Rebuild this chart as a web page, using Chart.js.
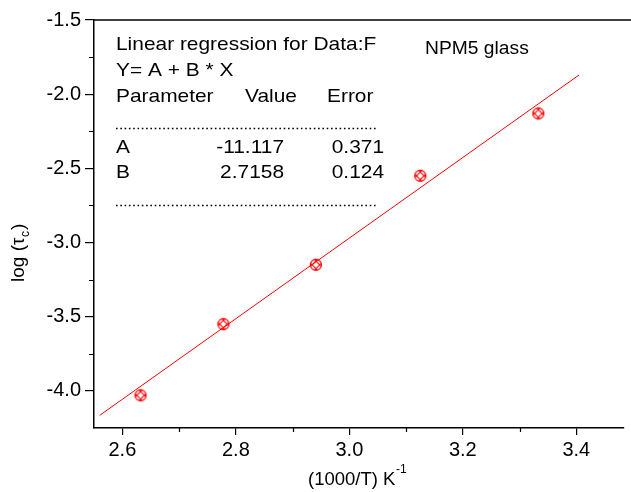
<!DOCTYPE html>
<html>
<head>
<meta charset="utf-8">
<script src="https://cdn.jsdelivr.net/npm/chart.js@4.4.1/dist/chart.umd.min.js"></script>
<style>
  html, body { margin: 0; padding: 0; background: #fff; }
  #wrap { width: 631px; height: 492px; position: relative; }
</style>
</head>
<body>
<div id="wrap"><canvas id="c"></canvas></div>
<script>
// ---- data ----
const xValues = [2.632, 2.778, 2.941, 3.125, 3.333];   // (1000/T) K^-1
const yValues = [-4.03, -3.55, -3.15, -2.55, -2.13];   // log(tau_c)
const fitX = [2.56, 3.405];
const fitY = [-4.165, -1.870];
const xMajorTicks = [2.6, 2.8, 3.0, 3.2, 3.4];
const xMinorTicks = [2.7, 2.9, 3.1, 3.3];
const yMajorTicks = [-1.5, -2.0, -2.5, -3.0, -3.5, -4.0];
const yMinorTicks = [-1.75, -2.25, -2.75, -3.25, -3.75];
const paramNames = ['A', 'B'];
const paramValues = ['-11.117', '2.7158'];
const paramErrors = ['0.371', '0.124'];

const FONT = '"Liberation Sans", Arial, Helvetica, sans-serif';
const RED = '#ff0000';

// custom marker: circle with cross hatch
function makeMarker() {
  const s = 16, c = s / 2, r = 5.6;
  const cv = document.createElement('canvas');
  cv.width = s; cv.height = s;
  const g = cv.getContext('2d');
  g.strokeStyle = RED;
  g.lineWidth = 1.1;
  g.beginPath();
  g.arc(c, c, r, 0, Math.PI * 2);
  g.stroke();
  g.save();
  g.beginPath();
  g.arc(c, c, r, 0, Math.PI * 2);
  g.clip();
  g.beginPath();
  [-1.9, 1.9].forEach(o => {
    g.moveTo(c - r + o, c - r - o);
    g.lineTo(c + r + o, c + r - o);
    g.moveTo(c - r + o, c + r + o);
    g.lineTo(c + r + o, c - r + o);
  });
  g.stroke();
  g.restore();
  return cv;
}

function drawText(ctx, text, x, y, align, size, sx) {
  ctx.save();
  ctx.translate(x, y);
  ctx.scale(sx, 1);
  ctx.font = size + 'px ' + FONT;
  ctx.textAlign = align;
  ctx.textBaseline = 'middle';
  ctx.fillText(text, 0, 0);
  ctx.restore();
}

const decorPlugin = {
  id: 'decor',
  afterDraw(chart) {
    const ctx = chart.ctx;
    const xs = chart.scales.x, ys = chart.scales.y;
    const area = chart.chartArea;
    ctx.save();
    // top border
    ctx.strokeStyle = '#000';
    ctx.lineWidth = 1.5;
    ctx.beginPath();
    ctx.moveTo(area.left, area.top);
    ctx.lineTo(631, area.top);
    ctx.stroke();
    // minor ticks
    ctx.lineWidth = 1.2;
    ctx.beginPath();
    xMinorTicks.forEach(v => {
      const px = Math.round(xs.getPixelForValue(v)) + 0.5;
      ctx.moveTo(px, area.bottom);
      ctx.lineTo(px, area.bottom + 4);
    });
    yMinorTicks.forEach(v => {
      const py = Math.round(ys.getPixelForValue(v)) + 0.5;
      ctx.moveTo(area.left, py);
      ctx.lineTo(area.left - 5, py);
    });
    ctx.stroke();

    // text box
    ctx.fillStyle = '#000';
    const TS = 19, SX = 1.1;
    drawText(ctx, 'Linear regression for Data:F', 116, 45, 'left', TS, SX);
    drawText(ctx, 'Y= A + B * X', 116, 71, 'left', TS, SX);
    drawText(ctx, 'Parameter', 116, 97, 'left', TS, SX);
    drawText(ctx, 'Value', 245, 97, 'left', TS, SX);
    drawText(ctx, 'Error', 327, 97, 'left', TS, SX);
    paramNames.forEach((n, i) => {
      const y = 148 + i * 25;
      drawText(ctx, n, 116, y, 'left', TS, SX);
      drawText(ctx, paramValues[i], 284, y, 'right', TS, SX);
      drawText(ctx, paramErrors[i], 384, y, 'right', TS, SX);
    });
    drawText(ctx, 'NPM5 glass', 425, 49, 'left', 17.5, SX);

    // dotted lines
    ctx.strokeStyle = '#000';
    ctx.lineWidth = 1.6;
    ctx.setLineDash([1.6, 2.7]);
    [128, 205].forEach(y => {
      ctx.beginPath();
      ctx.moveTo(116, y + 0.5);
      ctx.lineTo(376, y + 0.5);
      ctx.stroke();
    });
    ctx.setLineDash([]);

    // x axis title
    ctx.fillStyle = '#000';
    ctx.font = '18.5px ' + FONT;
    ctx.textBaseline = 'alphabetic';
    ctx.textAlign = 'left';
    const xt = '(1000/T) K';
    const xtStart = 308;
    ctx.fillText(xt, xtStart, 485);
    const w = ctx.measureText(xt).width;
    ctx.font = '12px ' + FONT;
    ctx.fillText('-1', xtStart + w + 0.5, 473);

    // y axis title (rotated)
    ctx.save();
    ctx.translate(24, 282);
    ctx.rotate(-Math.PI / 2);
    ctx.font = '19px ' + FONT;
    ctx.textAlign = 'left';
    ctx.textBaseline = 'alphabetic';
    const t1 = 'log (\u03C4';
    ctx.fillText(t1, 0, 0);
    const w1 = ctx.measureText(t1).width;
    ctx.font = '12px ' + FONT;
    ctx.fillText('c', w1 + 0.5, 5);
    const w2 = ctx.measureText('c').width;
    ctx.font = '19px ' + FONT;
    ctx.fillText(')', w1 + w2 + 1.5, 0);
    ctx.restore();

    ctx.restore();
  }
};

const pts = xValues.map((x, i) => ({ x: x, y: yValues[i] }));
const fitPts = fitX.map((x, i) => ({ x: x, y: fitY[i] }));
const marker = makeMarker();

new Chart(document.getElementById('c'), {
  type: 'scatter',
  data: {
    datasets: [
      {
        type: 'line',
        data: fitPts,
        borderColor: RED,
        borderWidth: 1,
        pointRadius: 0,
        fill: false,
        tension: 0
      },
      {
        data: pts,
        pointStyle: marker,
        pointRadius: 6
      }
    ]
  },
  options: {
    responsive: true,
    maintainAspectRatio: false,
    animation: false,
    events: [],
    layout: { padding: { top: 20, left: 0, right: 0, bottom: 0 } },
    plugins: { legend: { display: false }, tooltip: { enabled: false } },
    scales: {
      x: {
        type: 'linear',
        min: 2.55,
        max: 3.484,
        afterBuildTicks: s => { s.ticks = xMajorTicks.map(v => ({ value: v })); },
        afterFit: s => { s.height = 64; s.paddingLeft = 0; s.paddingRight = 0; },
        ticks: {
          color: '#000',
          font: { family: FONT, size: 20 },
          padding: 3,
          maxRotation: 0,
          autoSkip: false,
          callback: v => Number(v).toFixed(1)
        },
        grid: { display: true, drawOnChartArea: false, drawTicks: true, tickLength: 7, color: '#000', lineWidth: 1.2 },
        border: { display: true, color: '#000', width: 1.5 }
      },
      y: {
        type: 'linear',
        min: -4.25,
        max: -1.5,
        afterBuildTicks: s => { s.ticks = yMajorTicks.map(v => ({ value: v })); },
        afterFit: s => { s.width = 94; s.paddingTop = 0; s.paddingBottom = 0; },
        ticks: {
          color: '#000',
          font: { family: FONT, size: 20 },
          padding: 4,
          autoSkip: false,
          callback: v => Number(v).toFixed(1)
        },
        grid: { display: true, drawOnChartArea: false, drawTicks: true, tickLength: 9, color: '#000', lineWidth: 1.2 },
        border: { display: true, color: '#000', width: 1.5 }
      }
    }
  },
  plugins: [decorPlugin]
});
</script>
</body>
</html>
